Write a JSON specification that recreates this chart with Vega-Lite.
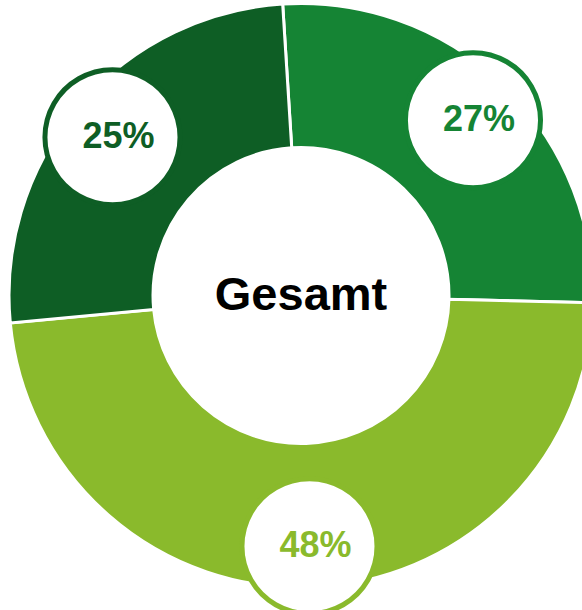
{
  "$schema": "https://vega.github.io/schema/vega-lite/v6.json",
  "width": 602,
  "height": 591,
  "autosize": {"type": "none"},
  "padding": {"top": 0, "left": 0, "right": 0, "bottom": 19},
  "background": "white",
  "config": {"view": {"stroke": null}},
  "data": {
    "values": [
      {"segment": "A", "value": 26.4, "label": "27%", "order": 1},
      {"segment": "B", "value": 48.1, "label": "48%", "order": 2},
      {"segment": "C", "value": 25.5, "label": "25%", "order": 3}
    ]
  },
  "layer": [
    {
      "mark": {"type": "arc", "radius": 292, "radius2": 148, "stroke": "white", "strokeWidth": 3},
      "encoding": {
        "theta": {"field": "value", "type": "quantitative", "stack": true, "scale": {"range": [-0.0628, 6.2204]}},
        "order": {"field": "order"},
        "color": {"field": "segment", "type": "nominal", "scale": {"domain": ["A", "B", "C"], "range": ["#158434", "#8aba2c", "#0e5e25"]}, "legend": null}
      }
    },
    {
      "mark": {"type": "text", "radius": 248, "text": "●", "font": "DejaVu Sans", "fontSize": 177, "fill": "white", "strokeWidth": 5, "align": "center", "baseline": "middle", "dy": -4},
      "encoding": {
        "theta": {"field": "value", "type": "quantitative", "stack": true, "scale": {"range": [-0.0628, 6.2204]}},
        "order": {"field": "order"},
        "stroke": {"field": "segment", "type": "nominal", "scale": {"domain": ["A", "B", "C"], "range": ["#158434", "#8aba2c", "#0e5e25"]}, "legend": null}
      }
    },
    {
      "mark": {"type": "text", "radius": 248, "font": "Liberation Sans", "fontWeight": "bold", "fontSize": 36, "align": "center", "baseline": "middle", "dx": 6, "dy": 3},
      "encoding": {
        "theta": {"field": "value", "type": "quantitative", "stack": true, "scale": {"range": [-0.0628, 6.2204]}},
        "order": {"field": "order"},
        "text": {"field": "label"},
        "color": {"field": "segment", "type": "nominal", "scale": {"domain": ["A", "B", "C"], "range": ["#158434", "#8aba2c", "#0e5e25"]}, "legend": null}
      }
    },
    {
      "data": {"values": [{"t": "Gesamt"}]},
      "mark": {"type": "text", "font": "Liberation Sans", "fontWeight": "bold", "fontSize": 47, "align": "center", "baseline": "middle", "color": "black"},
      "encoding": {
        "text": {"field": "t"}
      }
    }
  ]
}
